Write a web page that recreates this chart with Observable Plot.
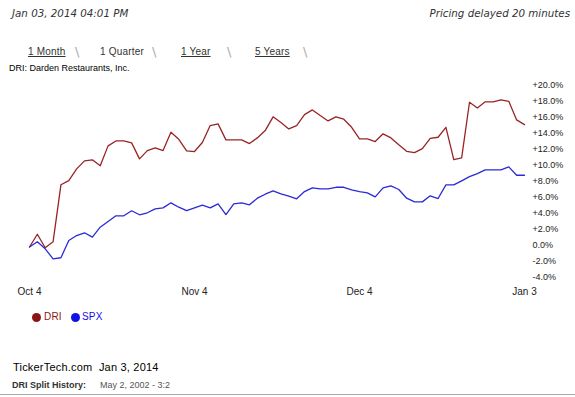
<!DOCTYPE html>
<html>
<head>
<meta charset="utf-8">
<script src="https://cdn.jsdelivr.net/npm/d3@7"></script>
<script src="https://cdn.jsdelivr.net/npm/@observablehq/plot@0.6"></script>
<style>
  html, body { margin: 0; padding: 0; background: #fff; }
  #page { position: relative; width: 575px; height: 397px; overflow: hidden; background: #fff; font-family: "Liberation Sans", Arial, sans-serif; }
  .t { position: absolute; white-space: nowrap; line-height: 1; }
  .ital { font-family: "DejaVu Sans", Verdana, sans-serif; font-style: italic; font-size: 10.3px; color: #333; }
  .tab { font-size: 10px; color: #333; letter-spacing: 0.2px; }
  .u { text-decoration: underline; }
  .sl { font-size: 13px; color: #aaa; font-family: "DejaVu Sans", sans-serif; }
  .dot { position: absolute; width: 9px; height: 9px; border-radius: 50%; }
  #chart { position: absolute; left: 0; top: 75px; }
</style>
</head>
<body>
<div id="page">
  <div class="t ital" style="left:12px;top:8px">Jan 03, 2014 04:01 PM</div>
  <div class="t ital" style="right:5px;top:8px">Pricing delayed 20 minutes</div>

  <div class="t tab u" style="left:28px;top:46.5px">1 Month</div>
  <div class="t sl" style="left:75px;top:44.5px">\</div>
  <div class="t tab" style="left:100px;top:46.5px">1 Quarter</div>
  <div class="t sl" style="left:152px;top:44.5px">\</div>
  <div class="t tab u" style="left:181px;top:46.5px">1 Year</div>
  <div class="t sl" style="left:227px;top:44.5px">\</div>
  <div class="t tab u" style="left:255px;top:46.5px">5 Years</div>
  <div class="t sl" style="left:303px;top:44.5px">\</div>

  <div class="t" style="left:9px;top:64px;font-size:9px;color:#000">DRI: Darden Restaurants, Inc.</div>

  <div id="chart"></div>

  <div id="legend"></div>

  <div class="t" style="left:13px;top:362px;font-size:11px;color:#000;letter-spacing:0.2px">TickerTech.com&nbsp; Jan 3, 2014</div>
  <div class="t" style="left:12px;top:381px;font-size:9px;color:#333;font-weight:bold">DRI Split History:</div>
  <div class="t" style="left:100px;top:381px;font-size:9px;color:#555">May 2, 2002 - 3:2</div>
  <div style="position:absolute;left:0;top:394px;width:575px;height:1px;background:#aaa"></div>
</div>
<script>
// ---- data (percent change from Oct 4, 2013, one value per trading day) ----
const dri = [0, 1.6, -0.1, 0.65, 7.8, 8.33, 9.8, 10.8, 10.93, 10.18,
  12.68, 13.3, 13.3, 13.06, 11.05, 12.09, 12.43, 12.09, 14.39, 13.5,
  12.05, 11.97, 13.1, 15.23, 15.44, 13.43, 13.43, 13.43, 12.97, 13.68,
  14.6, 16.32, 15.6, 14.81, 15.23, 16.6, 17.19, 16.48, 15.81, 16.32,
  16.02, 15.01, 13.56, 13.56, 13.22, 14.19, 13.68, 12.81, 12.0, 11.84,
  12.34, 13.63, 13.76, 15.01, 10.96, 11.18, 18.15, 17.44, 18.2, 18.2,
  18.45, 18.27, 15.94, 15.35];
const spx = [0, 0.65, -0.23, -1.48, -1.35, 0.81, 1.44, 1.78, 1.23, 2.48,
  3.2, 3.91, 3.91, 4.54, 4.04, 4.29, 4.79, 4.91, 5.54, 4.99,
  4.57, 4.91, 5.24, 4.91, 5.41, 4.07, 5.41, 5.54, 5.29, 6.12,
  6.62, 7.04, 6.67, 6.39, 6.04, 6.95, 7.42, 7.29, 7.29, 7.49,
  7.49, 7.17, 6.95, 6.79, 6.29, 7.42, 7.67, 7.21, 6.12, 5.66,
  5.66, 6.42, 6.08, 7.79, 7.79, 8.3, 8.83, 9.21, 9.67, 9.67,
  9.67, 10.05, 9.0, 9.0];
const xTickLabels = ["Oct 4", "Nov 4", "Dec 4", "Jan 3"];
const xTickIndex = [0, 21, 42, 63];
const yTicks = [-4, -2, 0, 2, 4, 6, 8, 10, 12, 14, 16, 18, 20];
const seriesNames = ["DRI", "SPX"];
const seriesColors = ["#992424", "#2a2ad8"];
const legendColors = ["#8e1414", "#1010e8"];

const rows = [];
dri.forEach((v, i) => rows.push({i, v, s: "DRI"}));
spx.forEach((v, i) => rows.push({i, v, s: "SPX"}));

const chart = Plot.plot({
  width: 575,
  height: 230,
  marginLeft: 29,
  marginRight: 51,
  marginTop: 12,
  marginBottom: 26.6,
  style: {fontFamily: "'Liberation Sans', Arial, sans-serif", background: "transparent", overflow: "visible"},
  x: {domain: [0, 63]},
  y: {domain: [-4, 20]},
  color: {domain: seriesNames, range: seriesColors},
  marks: [
    Plot.axisY({anchor: "right", ticks: yTicks, tickSize: 0, tickPadding: 8, dy: -2,
      tickFormat: d => (d > 0 ? "+" : "") + d.toFixed(1) + "%", fontSize: 9, fill: "#222", label: null}),
    Plot.axisX({ticks: xTickIndex, tickSize: 0, tickPadding: 9,
      tickFormat: d => xTickLabels[xTickIndex.indexOf(d)], fontSize: 10, fill: "#222", label: null}),
    Plot.line(rows, {x: "i", y: "v", z: "s", stroke: "s", strokeWidth: 1.3, curve: "linear"})
  ]
});
document.getElementById("chart").appendChild(chart);

// legend
const leg = document.getElementById("legend");
const legPos = [{dot: 32, txt: 44}, {dot: 71, txt: 82}];
seriesNames.forEach((n, k) => {
  const d = document.createElement("div");
  d.className = "dot";
  d.style.left = legPos[k].dot + "px";
  d.style.top = "312.5px";
  d.style.background = legendColors[k];
  leg.appendChild(d);
  const t = document.createElement("div");
  t.className = "t";
  t.style.left = legPos[k].txt + "px";
  t.style.top = "312px";
  t.style.fontSize = "10px";
  t.style.letterSpacing = "0.2px";
  t.style.color = legendColors[k];
  t.textContent = n;
  leg.appendChild(t);
});
</script>
</body>
</html>
